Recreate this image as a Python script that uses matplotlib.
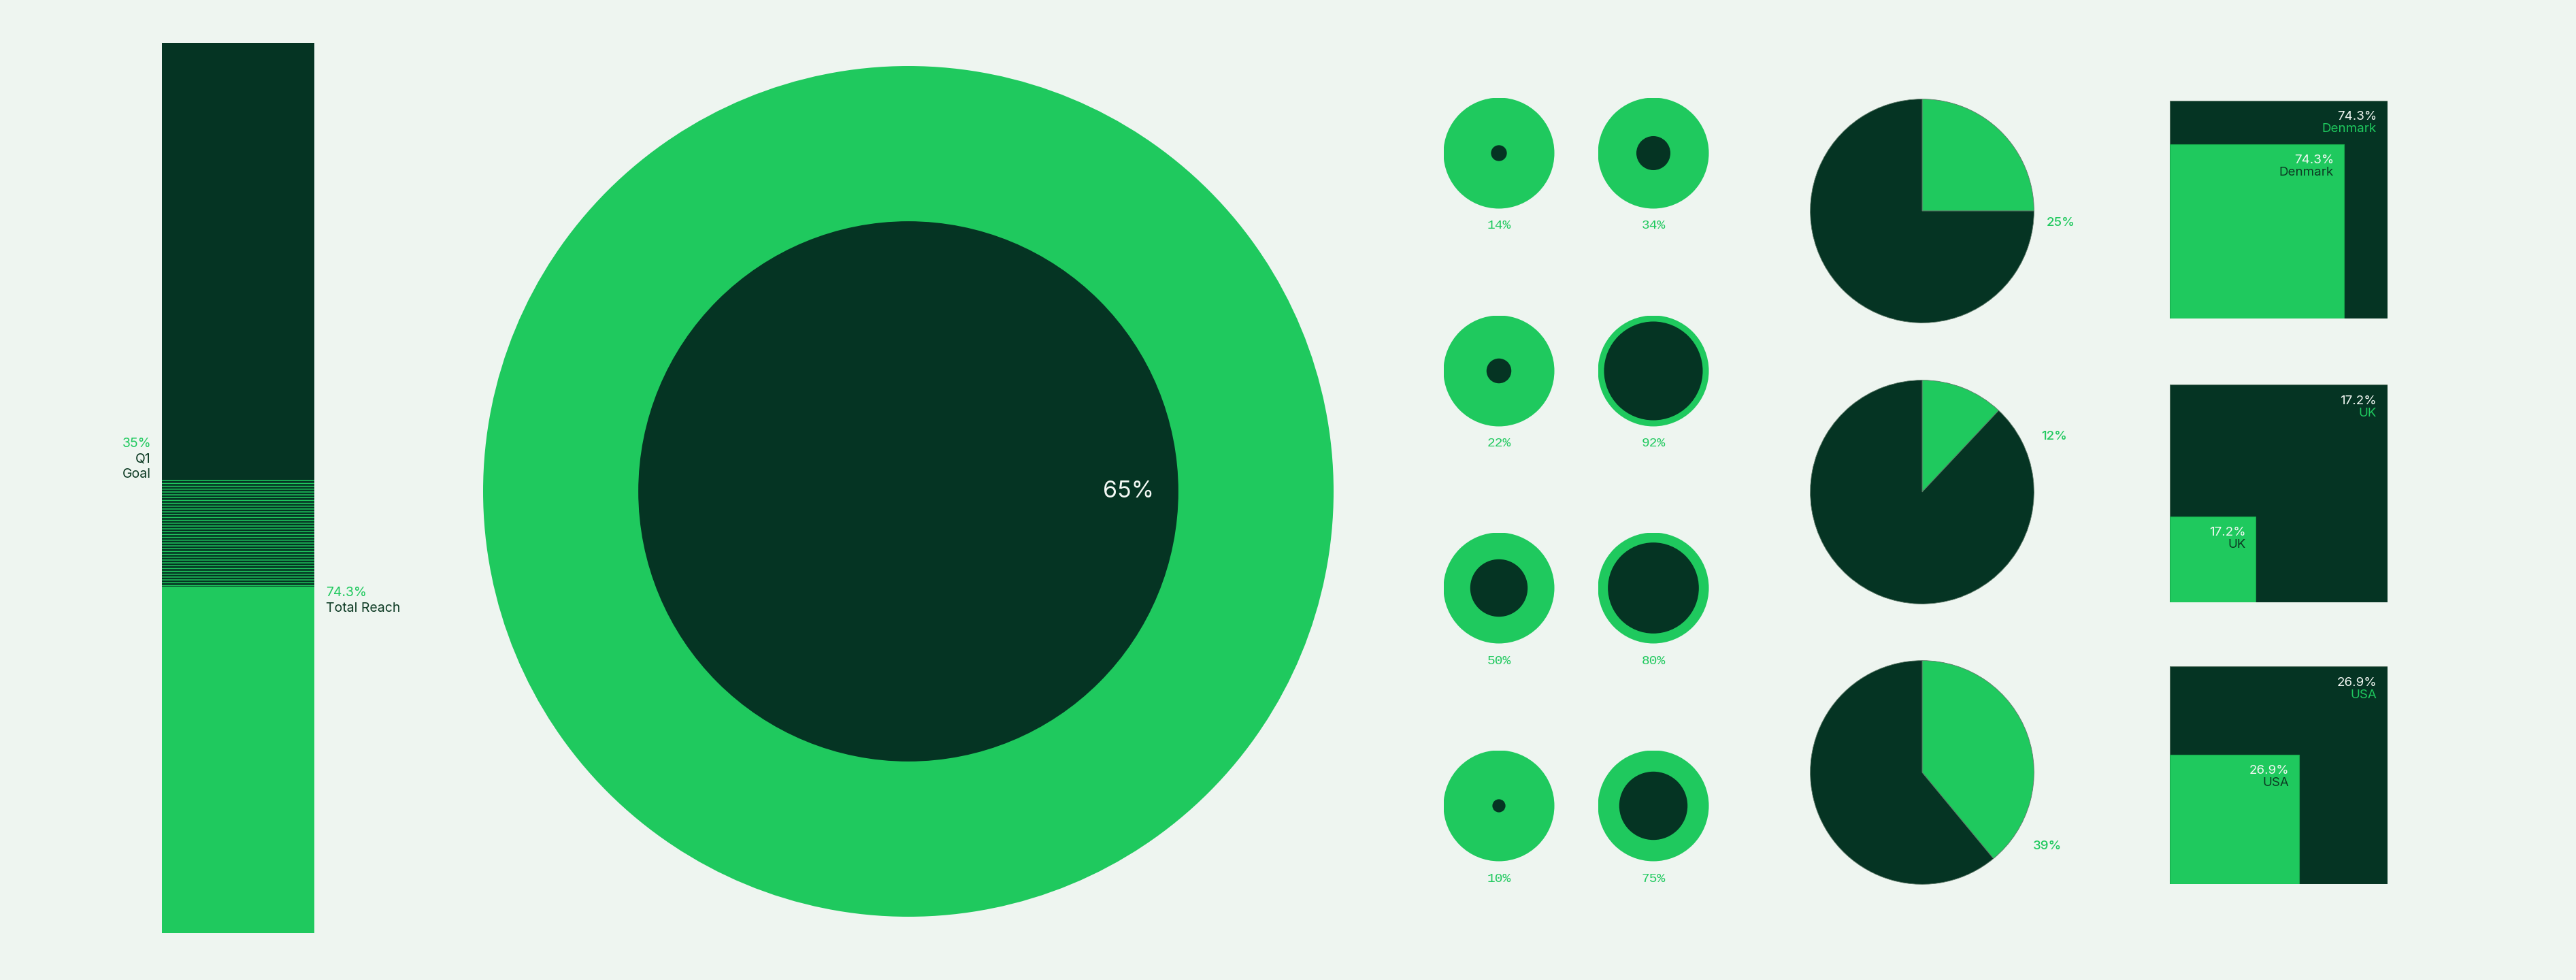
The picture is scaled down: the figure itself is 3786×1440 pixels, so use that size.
import matplotlib as mpl
import matplotlib.pyplot as plt
import numpy as np
from matplotlib.patches import Circle, Rectangle

mpl.use("Agg")
mpl.rcParams.update({"font.family": ["Inter", "DejaVu Sans"], "hatch.linewidth": 1.1})

BG = "#eef5f0"
DARK = "#053423"
GREEN = "#1fc95e"
INK = "#0c3a23"
WHITE = "#f3f8f4"

W, H = 3786, 1440

# stacked bar, shares of the bar height (%): reach, goal band, rest
bar_segments = [38.9, 12.1, 49.0]
reach_label = ("74.3%", "Total Reach")
goal_label = ("35%", "Q1\nGoal")

# big ring
ring_label = "65%"
ring_inner = 0.635

# small dot-in-circle grid, column by column
dot_labels = ["14%", "22%", "50%", "10%", "34%", "92%", "80%", "75%"]
dot_inner = [0.143, 0.224, 0.518, 0.118, 0.307, 0.89, 0.82, 0.616]

# pies
pie_values = [25, 12, 39]
pie_labels = ["25%", "12%", "39%"]

# nested squares
square_countries = ["Denmark", "UK", "USA"]
square_labels = ["74.3%", "17.2%", "26.9%"]
square_inner = [0.80, 0.395, 0.595]


def px_axes(fig, x0, y0, x1, y1):
    """Axes from pixel box (top-left origin)."""
    ax = fig.add_axes([x0 / W, 1 - y1 / H, (x1 - x0) / W, (y1 - y0) / H])
    ax.set_axis_off()
    return ax


def px_text(fig, x, y, s, **kw):
    fig.text(x / W, 1 - y / H, s, **kw)


fig = plt.figure(figsize=(W / 100, H / 100), dpi=100, facecolor=BG)

# --- stacked bar ---
ax = px_axes(fig, 238, 63, 462, 1371)
bottoms = np.cumsum([0] + bar_segments[:-1])
ax.bar(0, bar_segments[0], bottom=bottoms[0], width=1, color=GREEN, linewidth=0)
ax.bar(0, bar_segments[1], bottom=bottoms[1], width=1, facecolor=DARK,
       edgecolor=GREEN, hatch="----", linewidth=0)
ax.bar(0, bar_segments[2], bottom=bottoms[2], width=1, color=DARK, linewidth=0)
ax.set_xlim(-0.5, 0.5)
ax.set_ylim(0, sum(bar_segments))

px_text(fig, 222, 652, goal_label[0], color=GREEN, fontsize=14, ha="right", va="center")
px_text(fig, 222, 686, goal_label[1], color=INK, fontsize=14, ha="right", va="center",
        linespacing=1.25)
px_text(fig, 479, 871, reach_label[0], color=GREEN, fontsize=14, ha="left", va="center")
px_text(fig, 479, 894, reach_label[1], color=INK, fontsize=14, ha="left", va="center")

# --- big ring ---
ax = px_axes(fig, 710, 97, 1960, 1347)
ax.add_patch(Circle((0, 0), 1, color=GREEN, linewidth=0))
ax.add_patch(Circle((0, 0), ring_inner, color=DARK, linewidth=0))
ax.set_xlim(-1, 1)
ax.set_ylim(-1, 1)
ax.text(0.517, 0, ring_label, color=WHITE, fontsize=24.5, ha="center", va="center")

# --- small circles ---
cols = [2203, 2430]
rows = [225, 545, 864, 1184]
r = 81.5
for i, (lab, frac) in enumerate(zip(dot_labels, dot_inner)):
    cx, cy = cols[i // 4], rows[i % 4]
    ax = px_axes(fig, cx - r, cy - r, cx + r, cy + r)
    ax.add_patch(Circle((0, 0), 1, color=GREEN, linewidth=0))
    ax.add_patch(Circle((0, 0), frac, color=DARK, linewidth=0))
    ax.set_xlim(-1, 1)
    ax.set_ylim(-1, 1)
    px_text(fig, cx, cy + 107, lab, color=GREEN, fontsize=14, ha="center", va="center",
            family="Liberation Mono")

# --- pies ---
pie_x = 2825
pie_y = [310, 723, 1135]
pie_r = 166
label_offsets = [(183, 17), (175, -81), (163, 109)]
for v, lab, cy, (dx, dy) in zip(pie_values, pie_labels, pie_y, label_offsets):
    ax = px_axes(fig, pie_x - pie_r, cy - pie_r, pie_x + pie_r, cy + pie_r)
    ax.pie([v, 100 - v], colors=[GREEN, DARK], startangle=90, counterclock=False,
           wedgeprops=dict(linewidth=0.6, edgecolor="#5f7a69"))
    ax.set_xlim(-1.01, 1.01)
    ax.set_ylim(-1.01, 1.01)
    px_text(fig, pie_x + dx, cy + dy, lab, color=GREEN, fontsize=13.5, fontweight="medium",
            ha="left", va="center")

# --- nested squares ---
sq_x = 3189
sq_tops = [148, 565, 979]
sq = 320
for top, country, lab, f in zip(sq_tops, square_countries, square_labels, square_inner):
    ax = px_axes(fig, sq_x, top, sq_x + sq, top + sq)
    ax.add_patch(Rectangle((0, 0), 1, 1, facecolor=DARK, edgecolor="#5b7766", linewidth=0.8))
    ax.add_patch(Rectangle((0, 0), f, f, facecolor=GREEN, edgecolor="#18a84b", linewidth=0.8))
    ax.set_xlim(0, 1)
    ax.set_ylim(0, 1)
    pad_x, l1, l2 = 16 / sq, 24 / sq, 42 / sq
    ax.text(1 - pad_x, 1 - l1, lab, color=WHITE, fontsize=13.5, ha="right", va="center")
    ax.text(1 - pad_x, 1 - l2, country, color=GREEN, fontsize=13.5, ha="right", va="center")
    ax.text(f - 15 / sq, f - l1, lab, color=WHITE, fontsize=13.5, ha="right", va="center")
    ax.text(f - 15 / sq, f - l2, country, color=INK, fontsize=13.5, ha="right", va="center")

fig.savefig("out.png", dpi=100, facecolor=BG)
